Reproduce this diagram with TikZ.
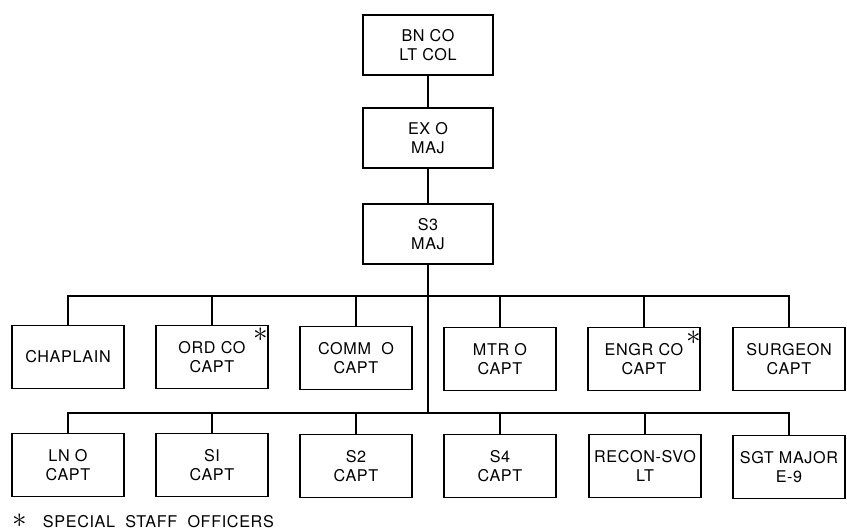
\documentclass[tikz,border=0pt]{standalone}
\usepackage{fontspec}
\setmainfont{TeX Gyre Heros}[LetterSpace=4]
\usetikzlibrary{positioning}

\begin{document}
\begin{tikzpicture}[x=0.025cm,y=-0.025cm,
  officer/.style={draw,line width=1.1pt,minimum width=2.8cm,minimum height=1.57cm,align=center,font=\fontsize{11.5}{13.5}\selectfont},
  command/.style={officer,minimum width=3.25cm,minimum height=1.5cm},
  special/.style={font=\huge,inner sep=0pt},
  link/.style={line width=1.1pt}]
\useasboundingbox (0,0) rectangle (847,530);

% chain of command
\node[command] (bnco) at (428,45) {BN CO\\LT COL};
\node[command] (exo) at (428,138) {EX O\\MAJ};
\node[command] (sthree) at (428,234) {S3\\MAJ};

% first row
\node[officer] (chap) at (68,357) {CHAPLAIN};
\node[officer] (ordco) at (212,357) {ORD CO\\CAPT};
\node[officer] (commo) at (356,358) {COMM\ \ O\\CAPT};
\node[officer] (mtro) at (500,359) {MTR O\\CAPT};
\node[officer] (engrco) at (644,359) {ENGR CO\\CAPT};
\node[officer] (surg) at (789,359) {SURGEON\\CAPT};
\node[special] (ordstar) at ([xshift=-0.2cm,yshift=-0.25cm]ordco.north east) {$\ast$};
\node[special] (engrstar) at ([xshift=-0.18cm,yshift=-0.28cm]engrco.north east) {$\ast$};

% second row
\node[officer] (lno) at (68,465) {LN O\\CAPT};
\node[officer] (sone) at (212,465) {SI\\CAPT};
\node[officer] (stwo) at (356,466) {S2\\CAPT};
\node[officer] (sfour) at (500,466) {S4\\CAPT};
\node[officer] (recon) at (645,466) {RECON-SVO\\LT};
\node[officer] (sgtmaj) at (789,467) {SGT MAJOR\\E-9};

\coordinate (busone) at (428,296);
\coordinate (bustwo) at (428,413);

\draw[link] (bnco) -- (exo);
\draw[link] (exo) -- (sthree);
\draw[link] (sthree.south) -- (bustwo);
\draw[link] (chap.north) |- (busone) -| (surg.north);
\foreach \n in {ordco,commo,mtro,engrco}
  \draw[link] (\n.north) -- (\n.north |- busone);
\draw[link] (lno.north) |- (bustwo) -| (sgtmaj.north);
\foreach \n in {sone,stwo,sfour,recon}
  \draw[link] (\n.north) -- (\n.north |- bustwo);

\node[anchor=base west,font=\fontsize{11.5}{13}\selectfont] (note) at (8,527) {{\huge$\ast$}\ \ \ SPECIAL\ \ STAFF\ \ OFFICERS};
\end{tikzpicture}
\end{document}
